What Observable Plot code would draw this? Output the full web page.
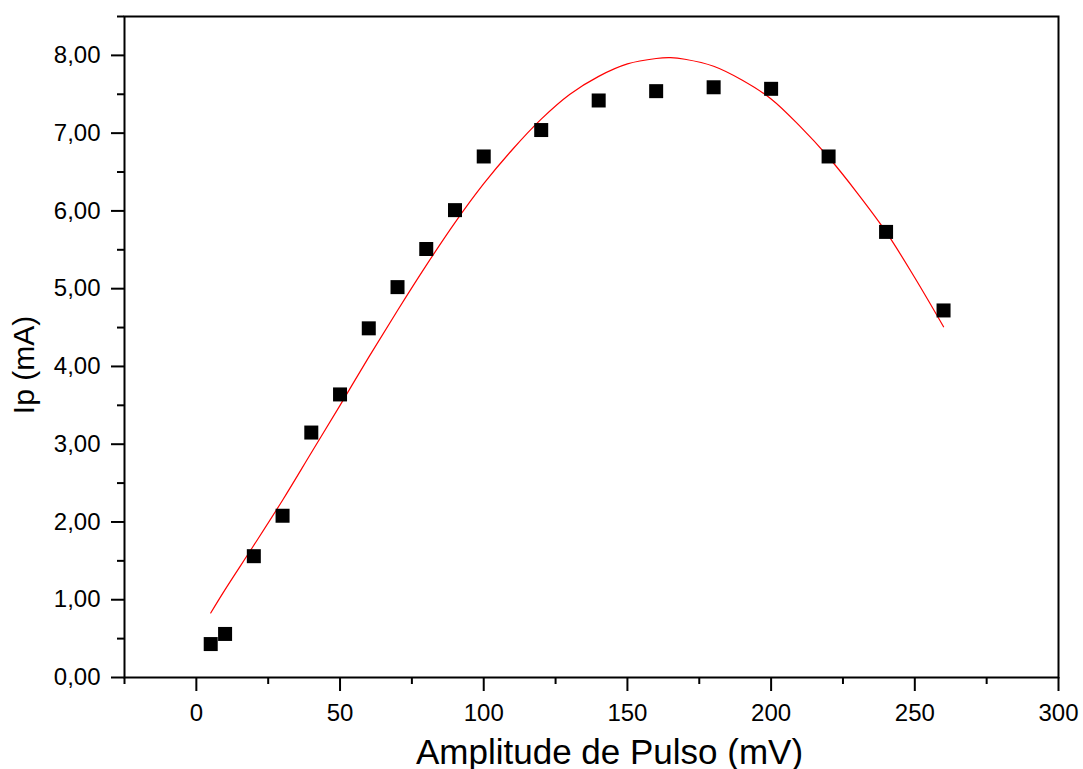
<!DOCTYPE html>
<html>
<head>
<meta charset="utf-8">
<script src="https://cdn.jsdelivr.net/npm/d3@7"></script>
<script src="https://cdn.jsdelivr.net/npm/@observablehq/plot@0.6"></script>
<style>
  html, body { margin: 0; padding: 0; background: #fff; }
</style>
</head>
<body>
<script>
// Measured data points
const amplitude = [5, 10, 20, 30, 40, 50, 60, 70, 80, 90, 100, 120, 140, 160, 180, 200, 220, 240, 260];
const ip = [0.43, 0.56, 1.56, 2.08, 3.15, 3.64, 4.49, 5.02, 5.51, 6.01, 6.70, 7.04, 7.42, 7.54, 7.59, 7.57, 6.70, 5.73, 4.72];

// Fit curve
const fitX = [5, 10, 20, 30, 40, 50, 60, 70, 80, 90, 100, 110, 120, 130, 140, 150, 160, 165, 170, 180, 190, 200, 210, 220, 230, 240, 250, 260];
const fitY = [0.83, 1.13, 1.70, 2.28, 2.89, 3.50, 4.12, 4.72, 5.30, 5.85, 6.35, 6.79, 7.18, 7.50, 7.73, 7.89, 7.96, 7.97, 7.95, 7.86, 7.68, 7.44, 7.09, 6.69, 6.23, 5.73, 5.14, 4.51];

// Tick values
const xMajor = [0, 50, 100, 150, 200, 250, 300];
const xMinor = [-25, 25, 75, 125, 175, 225, 275];
const yMajor = [0, 1, 2, 3, 4, 5, 6, 7, 8];
const yMinor = [0.5, 1.5, 2.5, 3.5, 4.5, 5.5, 6.5, 7.5, 8.5];

const xTitle = "Amplitude de Pulso (mV)";
const yTitle = "Ip (mA)";

const points = amplitude.map((x, i) => ({x, y: ip[i]}));
const fit = fitX.map((x, i) => ({x, y: fitY[i]}));

const chart = Plot.plot({
  width: 1083,
  height: 769,
  marginLeft: 124,
  marginRight: 25,
  marginTop: 16,
  marginBottom: 92,
  x: {domain: [-25, 300]},
  y: {domain: [0, 8.5]},
  style: {fontFamily: "'Liberation Sans', Arial, sans-serif", fontSize: "24px", color: "black", background: "white"},
  marks: [
    Plot.line(fit, {x: "x", y: "y", stroke: "#ff0000", strokeWidth: 1.2, curve: "catmull-rom"}),
    Plot.dot(points, {x: "x", y: "y", symbol: "square", r: 7.9, fill: "black", stroke: "none"}),
    Plot.frame({stroke: "black", strokeWidth: 2}),
    Plot.axisX({ticks: xMajor, tickSize: 14, tickPadding: 12, strokeWidth: 2, label: null, fontSize: 24, tickFormat: d => String(d)}),
    Plot.axisX({ticks: xMinor, tickSize: 7, strokeWidth: 2, label: null, tickFormat: () => ""}),
    Plot.axisY({ticks: yMajor, tickSize: 13, tickPadding: 11, strokeWidth: 2, label: null, fontSize: 24, tickFormat: d => d.toFixed(2).replace(".", ",")}),
    Plot.axisY({ticks: yMinor, tickSize: 7, strokeWidth: 2, label: null, tickFormat: () => ""}),
    Plot.text([xTitle], {frameAnchor: "bottom", text: d => d, textAnchor: "middle", lineAnchor: "bottom", dx: 18, dy: 86, fontSize: 35, fill: "black"}),
    Plot.text([yTitle], {frameAnchor: "left", text: d => d, textAnchor: "middle", lineAnchor: "middle", rotate: -90, dx: -100, dy: 18, fontSize: 30, fill: "black"})
  ]
});
document.body.appendChild(chart);
</script>
</body>
</html>
